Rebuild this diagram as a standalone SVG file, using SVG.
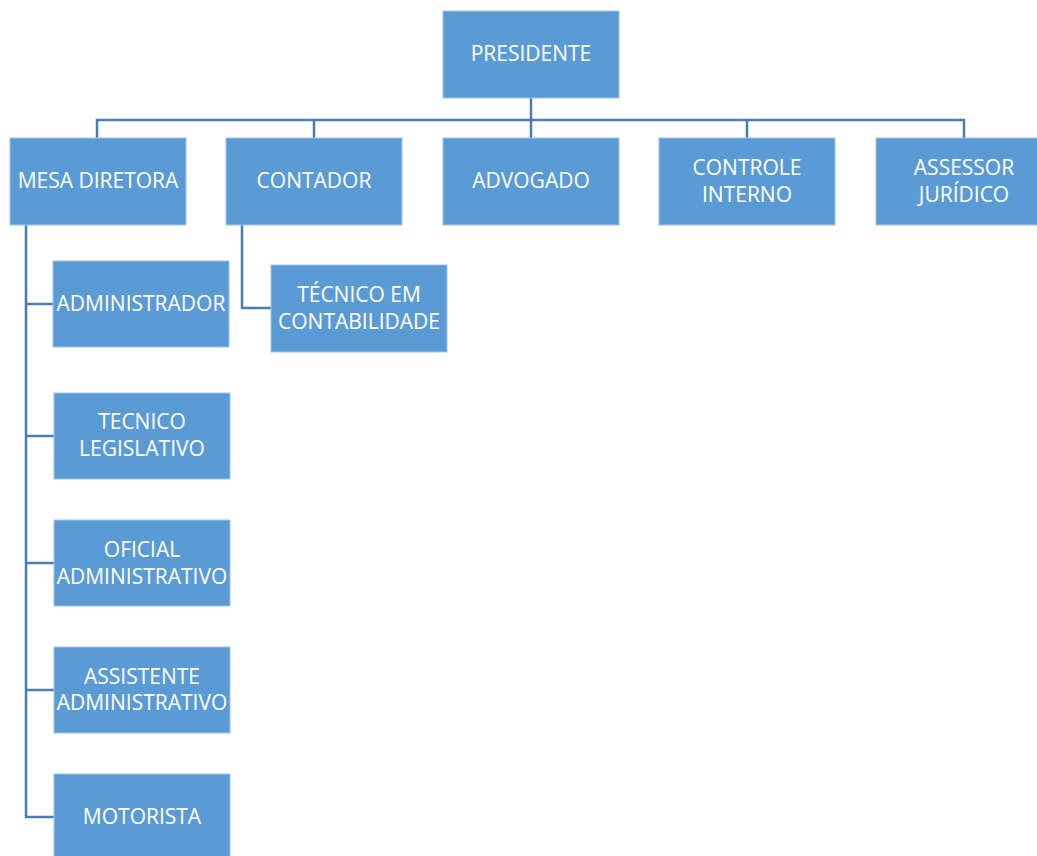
<svg xmlns="http://www.w3.org/2000/svg" width="1037" height="856" viewBox="0 0 1037 856">
<style>
.b{fill:#5B9BD5;stroke:#9DC3E6;stroke-width:1}
.t{fill:#FFFFFF;font-family:"Open Sans","Liberation Sans",sans-serif;font-size:21px;text-anchor:middle;dominant-baseline:central}
.c{fill:none;stroke:#4A7EB0;stroke-width:2.5}
</style>
<rect width="1037" height="856" fill="#FFFFFF"/>
<g id="connectors">
<path class="c" d="M531 98V138M97 138V120H964V138M314 120V138M747 120V138"/>
<path class="c" d="M26 225V817H54M26 304H53M26 436H54M26 563H54M26 690H54"/>
<path class="c" d="M242 225V308H271"/>
</g>
<g id="presidente"><rect class="b" x="443" y="11" width="176" height="87"/><text class="t" x="531" y="53">PRESIDENTE</text></g>
<g id="mesa"><rect class="b" x="10" y="138" width="176" height="87"/><text class="t" x="98" y="180">MESA DIRETORA</text></g>
<g id="contador"><rect class="b" x="226" y="138" width="176" height="87"/><text class="t" x="314" y="180">CONTADOR</text></g>
<g id="advogado"><rect class="b" x="443" y="138" width="176" height="87"/><text class="t" x="531" y="180">ADVOGADO</text></g>
<g id="controle"><rect class="b" x="659" y="138" width="176" height="87"/><text class="t" x="747" y="167">CONTROLE</text><text class="t" x="747" y="194">INTERNO</text></g>
<g id="assessor"><rect class="b" x="876" y="138" width="176" height="87"/><text class="t" x="964" y="167">ASSESSOR</text><text class="t" x="964" y="194">JURÍDICO</text></g>
<g id="tecnico-contabilidade"><rect class="b" x="271" y="265" width="176" height="87"/><text class="t" x="359" y="294">TÉCNICO EM</text><text class="t" x="359" y="321">CONTABILIDADE</text></g>
<g id="administrador"><rect class="b" x="53" y="261" width="176" height="86"/><text class="t" x="141" y="303">ADMINISTRADOR</text></g>
<g id="tecnico-legislativo"><rect class="b" x="54" y="393" width="176" height="86"/><text class="t" x="142" y="421">TECNICO</text><text class="t" x="142" y="448">LEGISLATIVO</text></g>
<g id="oficial"><rect class="b" x="54" y="520" width="176" height="86"/><text class="t" x="142" y="549">OFICIAL</text><text class="t" x="142" y="576">ADMINISTRATIVO</text></g>
<g id="assistente"><rect class="b" x="54" y="647" width="176" height="86"/><text class="t" x="142" y="676">ASSISTENTE</text><text class="t" x="142" y="702">ADMINISTRATIVO</text></g>
<g id="motorista"><rect class="b" x="54" y="774" width="176" height="87"/><text class="t" x="142" y="816">MOTORISTA</text></g>
</svg>
